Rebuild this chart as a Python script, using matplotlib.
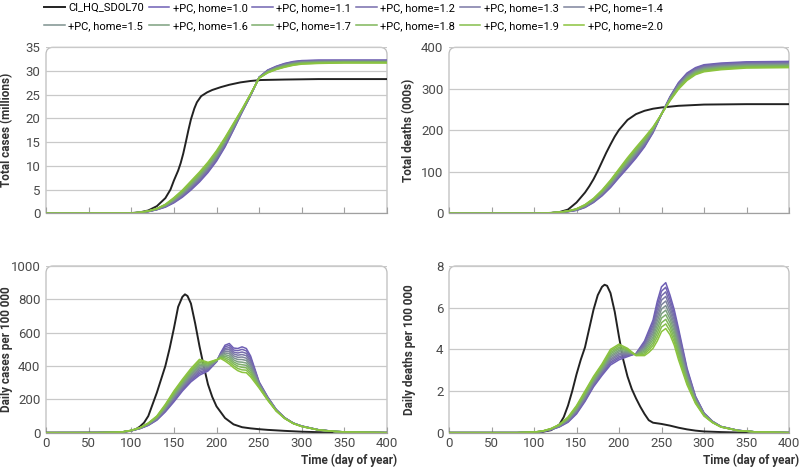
import numpy as np
import matplotlib
matplotlib.use("Agg")
import matplotlib.pyplot as plt
from matplotlib.path import Path
from matplotlib.patches import PathPatch

plt.rcParams['font.family'] = ['Roboto', 'DejaVu Sans']

# ---------------- data ----------------
labels = ["CI_HQ_SDOL70"] + [f"+PC, home={h:.1f}" for h in
                             [1.0, 1.1, 1.2, 1.3, 1.4, 1.5, 1.6, 1.7, 1.8, 1.9, 2.0]]

# Total cases (millions)
days_tc_black = [0, 100, 110, 120, 130, 140, 146, 150, 155, 158, 161, 164, 167, 170, 174,
                 177, 182, 189, 195, 205, 215, 228, 240, 252, 280, 320, 400]
tc_black = [0, 0.05, 0.2, 0.6, 1.5, 3.2, 5.0, 6.9, 9.0, 10.6, 12.6, 15.0, 17.5, 19.8, 22.1,
            23.4, 24.7, 25.5, 26.0, 26.6, 27.1, 27.6, 27.9, 28.1, 28.2, 28.3, 28.3]

days_tc_pc = [0, 100, 110, 120, 130, 140, 150, 160, 170, 180, 190, 200, 210, 220, 230,
              240, 250, 260, 270, 280, 290, 300, 320, 350, 400]
tc_pc = [
    [0, 0.04, 0.15, 0.35, 0.75, 1.30, 2.20, 3.40, 4.90, 6.60, 8.60, 11.00, 14.0, 17.60, 21.30, 24.80, 28.70, 30.20, 31.00, 31.60, 32.00, 32.20, 32.30, 32.30, 32.30],
    [0, 0.04, 0.16, 0.37, 0.78, 1.36, 2.31, 3.55, 5.09, 6.81, 8.82, 11.22, 14.2, 17.74, 21.37, 24.84, 28.68, 30.14, 30.93, 31.52, 31.92, 32.13, 32.23, 32.24, 32.24],
    [0, 0.04, 0.16, 0.38, 0.80, 1.42, 2.42, 3.70, 5.28, 7.02, 9.04, 11.44, 14.4, 17.88, 21.44, 24.88, 28.66, 30.08, 30.86, 31.44, 31.84, 32.05, 32.16, 32.18, 32.18],
    [0, 0.04, 0.17, 0.40, 0.83, 1.48, 2.53, 3.85, 5.47, 7.23, 9.26, 11.66, 14.6, 18.02, 21.51, 24.92, 28.64, 30.02, 30.79, 31.36, 31.76, 31.98, 32.09, 32.12, 32.12],
    [0, 0.04, 0.17, 0.41, 0.85, 1.54, 2.64, 4.00, 5.66, 7.44, 9.48, 11.88, 14.8, 18.16, 21.58, 24.96, 28.62, 29.96, 30.72, 31.28, 31.68, 31.90, 32.02, 32.06, 32.06],
    [0, 0.05, 0.18, 0.43, 0.88, 1.60, 2.75, 4.15, 5.85, 7.65, 9.70, 12.10, 15.0, 18.30, 21.65, 25.00, 28.60, 29.90, 30.65, 31.20, 31.60, 31.83, 31.95, 32.00, 32.00],
    [0, 0.05, 0.18, 0.44, 0.90, 1.66, 2.86, 4.30, 6.04, 7.86, 9.92, 12.32, 15.2, 18.44, 21.72, 25.04, 28.58, 29.84, 30.58, 31.12, 31.52, 31.75, 31.88, 31.94, 31.94],
    [0, 0.05, 0.19, 0.46, 0.93, 1.72, 2.97, 4.45, 6.23, 8.07, 10.14, 12.54, 15.4, 18.58, 21.79, 25.08, 28.56, 29.78, 30.51, 31.04, 31.44, 31.68, 31.81, 31.88, 31.88],
    [0, 0.05, 0.19, 0.47, 0.95, 1.78, 3.08, 4.60, 6.42, 8.28, 10.36, 12.76, 15.6, 18.72, 21.86, 25.12, 28.54, 29.72, 30.44, 30.96, 31.36, 31.60, 31.74, 31.82, 31.82],
    [0, 0.05, 0.20, 0.49, 0.98, 1.84, 3.19, 4.75, 6.61, 8.49, 10.58, 12.98, 15.8, 18.86, 21.93, 25.16, 28.52, 29.66, 30.37, 30.88, 31.28, 31.53, 31.67, 31.76, 31.76],
    [0, 0.05, 0.20, 0.50, 1.00, 1.90, 3.30, 4.90, 6.80, 8.70, 10.80, 13.20, 16.0, 19.00, 22.00, 25.20, 28.50, 29.60, 30.30, 30.80, 31.20, 31.45, 31.60, 31.70, 31.70],
]

# Total deaths (000s)
days_td_black = [0, 110, 120, 130, 140, 150, 160, 165, 170, 175, 180, 185, 190, 195,
                 200, 210, 220, 230, 240, 250, 270, 300, 350, 400]
td_black = [0, 0.3, 1, 3, 9, 26, 50, 65, 82, 102, 124, 146, 166, 185,
            201, 225, 239, 247, 252, 255, 259, 262, 263, 263]

days_td_pc = [0, 100, 110, 120, 130, 140, 150, 160, 170, 180, 190, 200, 210, 220, 230,
              240, 250, 260, 270, 280, 290, 300, 320, 350, 400]
td_pc = [
    [0, 0, 0.30, 0.90, 2.20, 4.00, 7.0, 14.0, 26, 42.0, 62.0, 86.0, 109.0, 133.0, 160.0, 194.0, 239, 281, 315.0, 338.0, 351.0, 358.0, 362.0, 365.0, 366.0],
    [0, 0, 0.31, 0.94, 2.28, 4.15, 7.4, 14.7, 27, 43.4, 63.8, 88.1, 111.5, 135.6, 162.3, 195.4, 239, 280, 313.4, 336.2, 349.3, 356.3, 360.4, 363.5, 364.5],
    [0, 0, 0.32, 0.98, 2.36, 4.30, 7.8, 15.4, 28, 44.8, 65.6, 90.2, 114.0, 138.2, 164.6, 196.8, 239, 279, 311.8, 334.4, 347.6, 354.6, 358.8, 362.0, 363.0],
    [0, 0, 0.33, 1.02, 2.44, 4.45, 8.2, 16.1, 29, 46.2, 67.4, 92.3, 116.5, 140.8, 166.9, 198.2, 239, 278, 310.2, 332.6, 345.9, 352.9, 357.2, 360.5, 361.5],
    [0, 0, 0.34, 1.06, 2.52, 4.60, 8.6, 16.8, 30, 47.6, 69.2, 94.4, 119.0, 143.4, 169.2, 199.6, 239, 277, 308.6, 330.8, 344.2, 351.2, 355.6, 359.0, 360.0],
    [0, 0, 0.35, 1.10, 2.60, 4.75, 9.0, 17.5, 31, 49.0, 71.0, 96.5, 121.5, 146.0, 171.5, 201.0, 239, 276, 307.0, 329.0, 342.5, 349.5, 354.0, 357.5, 358.5],
    [0, 0, 0.36, 1.14, 2.68, 4.90, 9.4, 18.2, 32, 50.4, 72.8, 98.6, 124.0, 148.6, 173.8, 202.4, 239, 275, 305.4, 327.2, 340.8, 347.8, 352.4, 356.0, 357.0],
    [0, 0, 0.37, 1.18, 2.76, 5.05, 9.8, 18.9, 33, 51.8, 74.6, 100.7, 126.5, 151.2, 176.1, 203.8, 239, 274, 303.8, 325.4, 339.1, 346.1, 350.8, 354.5, 355.5],
    [0, 0, 0.38, 1.22, 2.84, 5.20, 10.2, 19.6, 34, 53.2, 76.4, 102.8, 129.0, 153.8, 178.4, 205.2, 239, 273, 302.2, 323.6, 337.4, 344.4, 349.2, 353.0, 354.0],
    [0, 0, 0.39, 1.26, 2.92, 5.35, 10.6, 20.3, 35, 54.6, 78.2, 104.9, 131.5, 156.4, 180.7, 206.6, 239, 272, 300.6, 321.8, 335.7, 342.7, 347.6, 351.5, 352.5],
    [0, 0, 0.40, 1.30, 3.00, 5.50, 11.0, 21.0, 36, 56.0, 80.0, 107.0, 134.0, 159.0, 183.0, 208.0, 239, 271, 299.0, 320.0, 334.0, 341.0, 346.0, 350.0, 351.0],
]

# Daily cases per 100 000
days_dc_black = [0, 80, 90, 100, 105, 110, 115, 120, 125, 130, 135, 140, 145, 150, 155,
                 160, 163, 166, 170, 175, 180, 185, 190, 195, 200, 210, 220, 230, 240,
                 250, 260, 280, 300, 320, 340, 360, 400]
dc_black = [0, 1, 4, 12, 20, 36, 60, 100, 170, 240, 320, 400, 505, 625, 755,
            815, 830, 820, 775, 655, 520, 400, 290, 215, 158, 88, 50, 33, 26,
            21, 17, 11, 6, 3, 1, 0, 0]

days_dc_pc = [0, 60, 80, 90, 100, 110, 120, 130, 140, 150, 160, 170, 180, 190, 200, 205,
              210, 215, 220, 225, 230, 235, 240, 250, 260, 270, 280, 290, 300, 320, 340,
              360, 400]
dc_pc = [
    [0, 0, 1, 4, 12, 24, 44, 75, 125, 185, 250, 305, 345, 370, 425, 480, 525, 535, 508, 505, 515, 505, 460, 305, 215, 140, 90, 58, 40, 17, 7, 3, 0],
    [0, 0, 1, 4, 12, 25, 45, 78, 130, 192, 257, 313, 355, 375, 426, 477, 516, 523, 496, 492, 500, 491, 448, 301, 213, 139, 90, 58, 40, 17, 7, 3, 0],
    [0, 0, 1, 4, 12, 25, 47, 80, 134, 198, 264, 321, 364, 380, 428, 473, 506, 510, 484, 478, 484, 476, 435, 297, 211, 138, 89, 57, 39, 17, 7, 3, 0],
    [0, 0, 1, 4, 13, 26, 48, 83, 139, 205, 271, 329, 374, 386, 429, 470, 497, 498, 473, 465, 469, 462, 423, 294, 209, 137, 89, 57, 39, 17, 7, 3, 0],
    [0, 0, 1, 4, 13, 26, 50, 85, 143, 211, 278, 337, 383, 391, 430, 466, 487, 486, 461, 452, 454, 447, 410, 290, 207, 136, 88, 57, 39, 17, 7, 3, 0],
    [0, 0, 2, 5, 13, 27, 51, 88, 148, 218, 285, 345, 393, 396, 432, 463, 478, 474, 449, 439, 439, 433, 398, 287, 205, 135, 88, 57, 39, 17, 7, 3, 0],
    [0, 0, 2, 5, 13, 28, 52, 90, 152, 224, 292, 353, 402, 401, 433, 459, 468, 461, 437, 425, 423, 418, 385, 283, 203, 134, 87, 56, 38, 16, 7, 3, 0],
    [0, 0, 2, 5, 13, 28, 54, 93, 157, 231, 299, 361, 412, 406, 434, 456, 459, 449, 425, 412, 408, 404, 373, 279, 201, 133, 87, 56, 38, 16, 7, 3, 0],
    [0, 0, 2, 5, 14, 29, 55, 95, 161, 237, 306, 369, 421, 412, 435, 452, 449, 437, 414, 399, 392, 389, 360, 275, 199, 132, 86, 56, 38, 16, 7, 3, 0],
    [0, 0, 2, 5, 14, 29, 57, 98, 166, 244, 313, 377, 431, 417, 437, 449, 440, 424, 402, 385, 377, 375, 348, 272, 197, 131, 86, 55, 37, 16, 7, 3, 0],
    [0, 0, 2, 5, 14, 30, 58, 100, 170, 250, 320, 385, 440, 422, 438, 445, 430, 412, 390, 372, 362, 360, 335, 268, 195, 130, 85, 55, 37, 16, 7, 3, 0],
]

# Daily deaths per 100 000
days_dd_black = [0, 90, 100, 110, 120, 125, 130, 135, 140, 145, 150, 155, 160, 165, 170,
                 175, 180, 183, 186, 190, 195, 200, 205, 210, 215, 220, 225, 230, 235,
                 240, 250, 260, 270, 280, 290, 300, 320, 340, 360, 400]
dd_black = [0, 0, 0.01, 0.04, 0.12, 0.25, 0.4, 0.75, 1.3, 2.0, 2.8, 3.5, 4.1, 5.0, 5.9,
            6.6, 7.0, 7.1, 7.05, 6.7, 5.8, 4.6, 3.5, 2.7, 2.1, 1.65, 1.25, 0.9, 0.6,
            0.48, 0.42, 0.34, 0.24, 0.16, 0.1, 0.06, 0.03, 0.01, 0, 0]

days_dd_pc = [0, 80, 100, 110, 120, 130, 140, 150, 160, 170, 180, 190, 200, 210, 220, 230,
              235, 240, 245, 250, 255, 260, 265, 270, 280, 290, 300, 310, 320, 340, 360, 400]
dd_pc = [
    [0, 0, 0.02, 0.06, 0.14, 0.28, 0.50, 0.90, 1.50, 2.20, 2.75, 3.25, 3.50, 3.65, 3.80, 4.40, 4.90, 5.40, 6.30, 7.00, 7.20, 6.60, 5.90, 5.00, 3.10, 1.75, 0.95, 0.55, 0.30, 0.11, 0.04, 0],
    [0, 0, 0.02, 0.06, 0.15, 0.29, 0.53, 0.94, 1.55, 2.25, 2.81, 3.33, 3.58, 3.69, 3.79, 4.33, 4.80, 5.27, 6.11, 6.79, 6.98, 6.41, 5.73, 4.85, 3.02, 1.72, 0.94, 0.54, 0.30, 0.11, 0.04, 0],
    [0, 0, 0.02, 0.06, 0.15, 0.30, 0.55, 0.98, 1.60, 2.30, 2.86, 3.40, 3.65, 3.73, 3.78, 4.26, 4.69, 5.13, 5.92, 6.57, 6.76, 6.22, 5.56, 4.70, 2.94, 1.68, 0.92, 0.54, 0.29, 0.11, 0.04, 0],
    [0, 0, 0.02, 0.07, 0.16, 0.32, 0.58, 1.02, 1.65, 2.35, 2.92, 3.48, 3.73, 3.77, 3.77, 4.19, 4.59, 5.00, 5.73, 6.36, 6.54, 6.03, 5.39, 4.55, 2.86, 1.65, 0.91, 0.53, 0.29, 0.11, 0.04, 0],
    [0, 0, 0.02, 0.07, 0.16, 0.33, 0.60, 1.06, 1.70, 2.40, 2.97, 3.55, 3.80, 3.81, 3.76, 4.12, 4.48, 4.86, 5.54, 6.14, 6.32, 5.84, 5.22, 4.40, 2.78, 1.61, 0.89, 0.52, 0.29, 0.11, 0.04, 0],
    [0, 0, 0.03, 0.07, 0.17, 0.34, 0.63, 1.10, 1.75, 2.45, 3.03, 3.63, 3.88, 3.85, 3.75, 4.05, 4.38, 4.73, 5.35, 5.93, 6.10, 5.65, 5.05, 4.25, 2.70, 1.58, 0.88, 0.52, 0.29, 0.11, 0.04, 0],
    [0, 0, 0.03, 0.07, 0.18, 0.35, 0.65, 1.14, 1.80, 2.50, 3.08, 3.70, 3.95, 3.89, 3.74, 3.98, 4.27, 4.59, 5.16, 5.71, 5.88, 5.46, 4.88, 4.10, 2.62, 1.54, 0.86, 0.51, 0.28, 0.10, 0.04, 0],
    [0, 0, 0.03, 0.07, 0.18, 0.36, 0.68, 1.18, 1.85, 2.55, 3.14, 3.78, 4.03, 3.93, 3.73, 3.91, 4.17, 4.46, 4.97, 5.50, 5.66, 5.27, 4.71, 3.95, 2.54, 1.51, 0.85, 0.50, 0.28, 0.10, 0.04, 0],
    [0, 0, 0.03, 0.08, 0.19, 0.38, 0.70, 1.22, 1.90, 2.60, 3.19, 3.85, 4.10, 3.97, 3.72, 3.84, 4.06, 4.32, 4.78, 5.28, 5.44, 5.08, 4.54, 3.80, 2.46, 1.47, 0.83, 0.50, 0.28, 0.10, 0.04, 0],
    [0, 0, 0.03, 0.08, 0.19, 0.39, 0.73, 1.26, 1.95, 2.65, 3.25, 3.93, 4.18, 4.01, 3.71, 3.77, 3.96, 4.19, 4.59, 5.07, 5.22, 4.89, 4.37, 3.65, 2.38, 1.44, 0.82, 0.49, 0.27, 0.10, 0.04, 0],
    [0, 0, 0.03, 0.08, 0.20, 0.40, 0.75, 1.30, 2.00, 2.70, 3.30, 4.00, 4.25, 4.05, 3.70, 3.70, 3.85, 4.05, 4.40, 4.85, 5.00, 4.70, 4.20, 3.50, 2.30, 1.40, 0.80, 0.48, 0.27, 0.10, 0.04, 0],
]

pc_colors = ["#6F5FB5", "#7264B2", "#766CAC", "#7A78A6", "#7E849C", "#7E9290",
             "#7DA180", "#7DAE6C", "#80B75A", "#85BE4B", "#8CC43F"]
black_color = "#222222"

x_ticks = [0, 50, 100, 150, 200, 250, 300, 350, 400]

# ---------------- figure ----------------
W, H = 800, 467
fig = plt.figure(figsize=(W / 100, H / 100), dpi=100)

def ax_at(x0, x1, y0, y1):
    return fig.add_axes([x0 / W, 1 - y1 / H, (x1 - x0) / W, (y1 - y0) / H])

ax_tc = ax_at(46, 387, 47.3, 213.3)
ax_td = ax_at(449, 789, 47.3, 213.3)
ax_dc = ax_at(46, 387, 266, 432.7)
ax_dd = ax_at(449, 789, 266, 432.7)

GRID = "#c9c9c9"
FRAME = "#bdbdbd"
AXIS = "#a0a0a0"
TICKC = "#4a4a4a"

def rounded_frame(ax, r=7):
    pos = ax.get_position()
    wpx, hpx = pos.width * W, pos.height * H
    rx, ry = r / wpx, r / hpx
    verts = [(0, 0), (0, 1 - ry), (0, 1), (rx, 1), (1 - rx, 1), (1, 1), (1, 1 - ry), (1, 0)]
    codes = [Path.MOVETO, Path.LINETO, Path.CURVE3, Path.CURVE3, Path.LINETO,
             Path.CURVE3, Path.CURVE3, Path.LINETO]
    p = PathPatch(Path(verts, codes), transform=ax.transAxes, fill=False,
                  edgecolor=FRAME, lw=0.9, clip_on=False, zorder=0.5)
    ax.add_patch(p)

def style(ax, ymax, yticks, ylabel, show_x, ylab_x):
    ax.set_xlim(0, 400)
    ax.set_ylim(0, ymax)
    ax.set_yticks(yticks)
    ax.set_xticks(x_ticks)
    for s in ["top", "right", "left"]:
        ax.spines[s].set_visible(False)
    ax.spines["bottom"].set_color(AXIS)
    ax.spines["bottom"].set_linewidth(0.9)
    ax.spines["bottom"].set_zorder(5)
    ax.yaxis.grid(True, color=GRID, lw=0.9)
    ax.set_axisbelow(True)
    ax.tick_params(axis="y", length=0, pad=4, labelsize=9.5, labelcolor=TICKC)
    ax.tick_params(axis="x", direction="in", length=4, width=0.8, color=AXIS,
                   pad=3, labelsize=9.5, labelcolor=TICKC, labelbottom=show_x)
    rounded_frame(ax)
    pos = ax.get_position()
    fig.text(ylab_x / W, (pos.y0 + pos.y1) / 2, ylabel, rotation=90, ha="center",
             va="center", fontsize=8.5, fontweight="bold", color="#333333")

def draw(ax, dblack, vblack, dpc, vpc, with_labels=False):
    ax.plot(dblack, vblack, color=black_color, lw=1.4,
            label=labels[0] if with_labels else None, zorder=3)
    for i, row in enumerate(vpc):
        ax.plot(dpc, row, color=pc_colors[i], lw=1.1,
                label=labels[i + 1] if with_labels else None, zorder=3)

draw(ax_tc, days_tc_black, tc_black, days_tc_pc, tc_pc, with_labels=True)
draw(ax_td, days_td_black, td_black, days_td_pc, td_pc)
draw(ax_dc, days_dc_black, dc_black, days_dc_pc, dc_pc)
draw(ax_dd, days_dd_black, dd_black, days_dd_pc, dd_pc)

style(ax_tc, 35, [0, 5, 10, 15, 20, 25, 30, 35], "Total cases (millions)", False, 7)
style(ax_td, 400, [0, 100, 200, 300, 400], "Total deaths (000s)", False, 409)
style(ax_dc, 1000, [0, 200, 400, 600, 800, 1000], "Daily cases per 100 000", True, 7)
style(ax_dd, 8, [0, 2, 4, 6, 8], "Daily deaths per 100 000", True, 409)

for ax in (ax_dc, ax_dd):
    pos = ax.get_position()
    fig.text(pos.x1 + 10 / W, 1 - 460 / H, "Time (day of year)", ha="right", va="center",
             fontsize=8.5, fontweight="bold", color="#333333")

# legend: two rows of six, filled row by row
handles, labs = ax_tc.get_legend_handles_labels()
order = []
for c in range(6):
    order += [c, c + 6]
fig.legend([handles[i] for i in order], [labs[i] for i in order],
           loc="upper left", bbox_to_anchor=(44 / W, 1 - 3 / H), ncol=6,
           frameon=False, fontsize=8, handlelength=1.85, handletextpad=0.3,
           columnspacing=0.45, labelspacing=0.75, borderaxespad=0, borderpad=0)

fig.savefig("out.png", dpi=100)
